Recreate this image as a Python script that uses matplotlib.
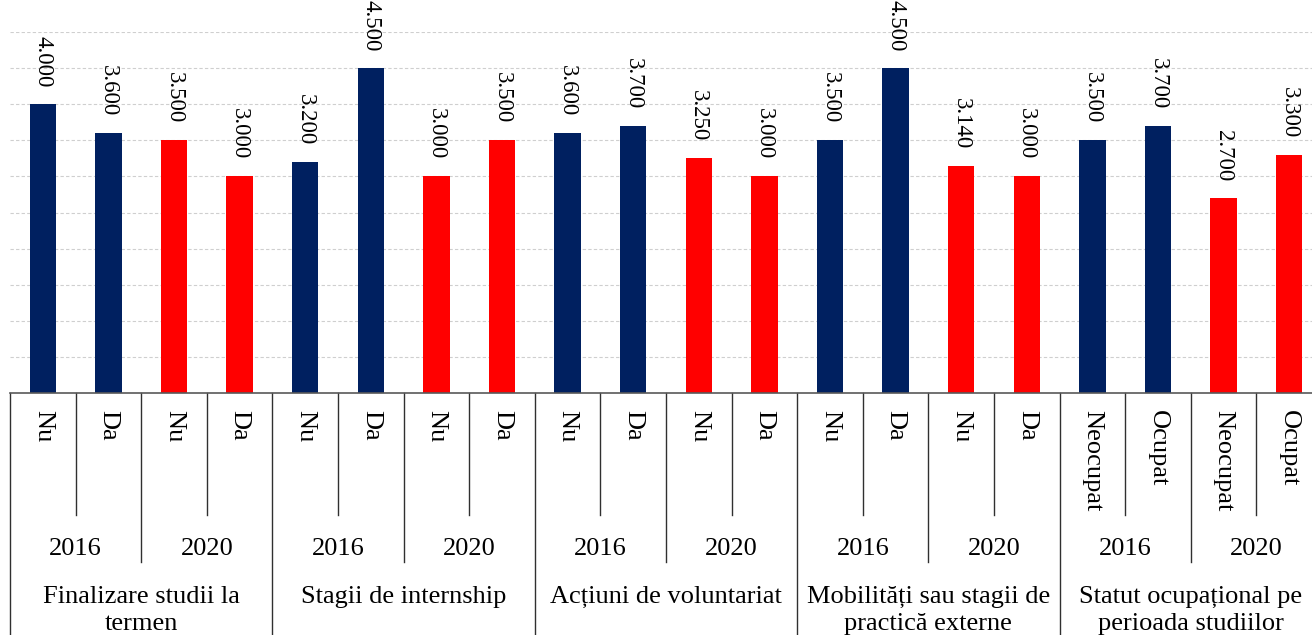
import matplotlib.pyplot as plt
from matplotlib.transforms import blended_transform_factory

# values per category: [2016 first, 2016 second, 2020 first, 2020 second]
categories = [
    "Finalizare studii la\ntermen",
    "Stagii de internship",
    "Acțiuni de voluntariat",
    "Mobilități sau stagii de\npractică externe",
    "Statut ocupațional pe\nperioada studiilor",
]
years = ["2016", "2020"]
sub_labels = [
    ["Nu", "Da"],
    ["Nu", "Da"],
    ["Nu", "Da"],
    ["Nu", "Da"],
    ["Neocupat", "Ocupat"],
]
values = [
    [4.000, 3.600, 3.500, 3.000],
    [3.200, 4.500, 3.000, 3.500],
    [3.600, 3.700, 3.250, 3.000],
    [3.500, 4.500, 3.140, 3.000],
    [3.500, 3.700, 2.700, 3.300],
]
year_colors = {"2016": "#002060", "2020": "#FF0000"}

W, H = 1312, 635
BASE = 393  # pixel row of the category axis
fig = plt.figure(figsize=(W / 100, H / 100), dpi=100)
ax = fig.add_axes([10 / W, (H - BASE) / H, 1.0, 361 / H])

serif = ["Liberation Serif", "DejaVu Serif"]

xs, ys, cols = [], [], []
for c, vals in enumerate(values):
    for j, v in enumerate(vals):
        xs.append(c * 4 + j)
        ys.append(v)
        cols.append(year_colors[years[j // 2]])

ax.bar(xs, ys, width=0.4, color=cols, zorder=3)
for x, v in zip(xs, ys):
    ax.annotate(f"{v:.3f}", (x, v), xytext=(0, 12), textcoords="offset points",
                rotation=270, ha="center", va="bottom", fontsize=16.5,
                family=serif, annotation_clip=False)

ax.set_xlim(-0.5, 19.5)
ax.set_ylim(0, 5)
ax.set_yticks([i * 0.5 for i in range(1, 11)])
ax.yaxis.grid(True, color="#CFCFCF", linestyle=(0, (3, 2)), linewidth=0.8)
ax.tick_params(left=False, bottom=False, labelleft=False, labelbottom=False)
for s in ["top", "right", "left"]:
    ax.spines[s].set_visible(False)
ax.spines["bottom"].set_color("#595959")
ax.spines["bottom"].set_linewidth(1.2)
ax.spines["bottom"].set_zorder(4)

tr = blended_transform_factory(ax.transData, ax.transAxes)


def ay(px):
    # pixel row of the figure -> axes fraction
    return (BASE - px) / 361


line_kw = dict(color="#303030", lw=1, transform=tr, clip_on=False)
for c in range(len(categories)):
    x0 = c * 4
    ax.plot([x0 - 0.5, x0 - 0.5], [0, ay(H + 5)], **line_kw)
    ax.plot([x0 + 1.5, x0 + 1.5], [0, ay(562)], **line_kw)
    for k in (0.5, 2.5):
        ax.plot([x0 + k, x0 + k], [0, ay(515)], **line_kw)
    for j in range(4):
        ax.text(x0 + j, ay(410), sub_labels[c][j % 2], rotation=270,
                ha="center", va="top", fontsize=19, family=serif,
                transform=tr, clip_on=False)
    for y, yr in enumerate(years):
        ax.text(x0 + 0.5 + 2 * y, ay(549), yr, ha="center", va="center",
                fontsize=19, family=serif, transform=tr, clip_on=False)
    ax.text(x0 + 1.5, ay(586), categories[c], ha="center", va="top",
            fontsize=19, family=serif, linespacing=1.3,
            transform=tr, clip_on=False)
ax.plot([19.5, 19.5], [0, ay(H + 5)], **line_kw)

fig.savefig("out.png", dpi=100)
